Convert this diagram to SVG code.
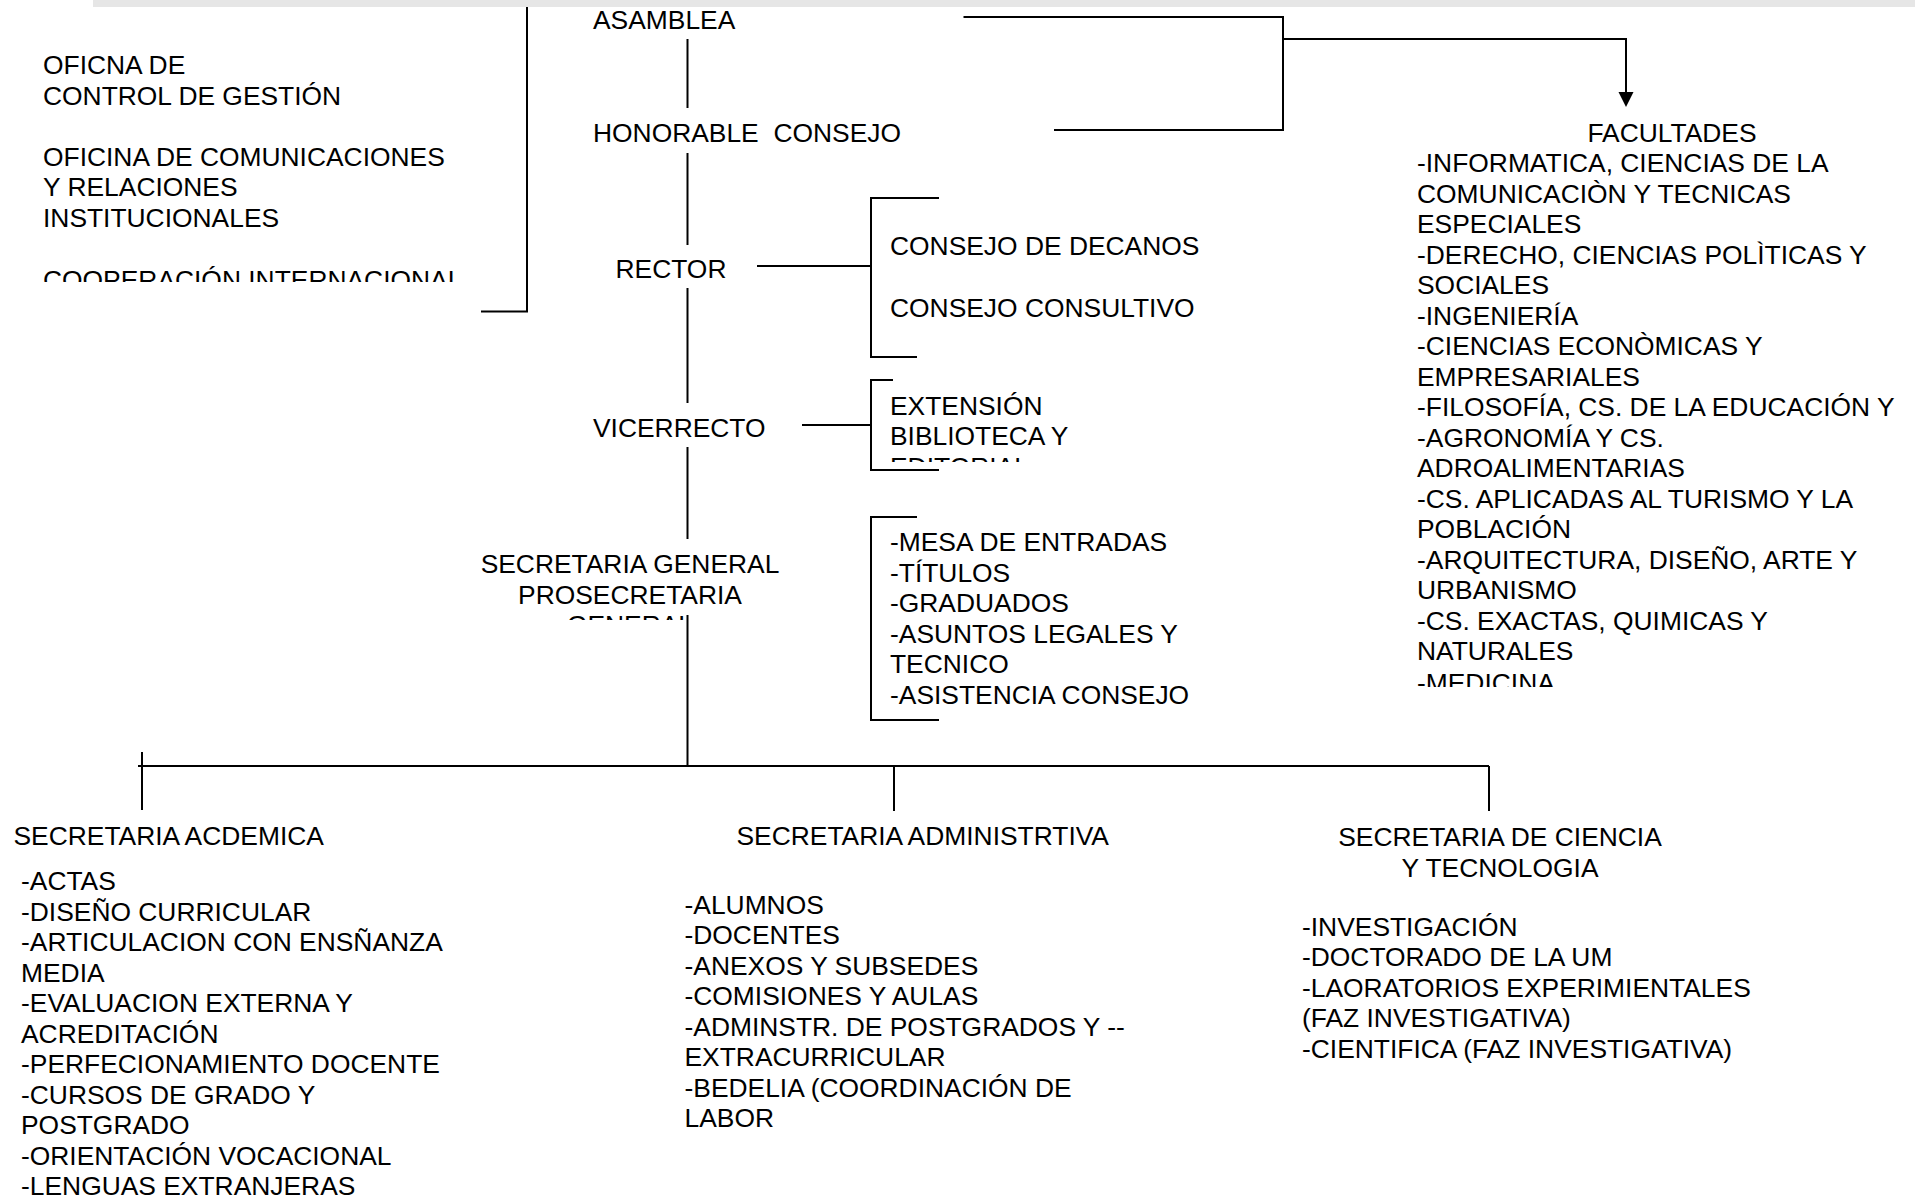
<svg xmlns="http://www.w3.org/2000/svg" width="1915" height="1202" viewBox="0 0 1915 1202">
<style>
text{font-family:"Liberation Sans",Arial,sans-serif;font-size:26.4px;fill:#000}
.c{text-anchor:middle}
.ln{fill:none;stroke:#000;stroke-width:2}
</style>
<defs>
<clipPath id="cpCoop"><rect x="0" y="240" width="480" height="42"/></clipPath>
<clipPath id="cpExt"><rect x="880" y="380" width="200" height="82"/></clipPath>
<clipPath id="cpSec"><rect x="460" y="540" width="340" height="80"/></clipPath>
<clipPath id="cpFac"><rect x="1400" y="660" width="500" height="27"/></clipPath>
</defs>
<rect x="93" y="0" width="1822" height="7" fill="#e6e6e6"/>
<g id="connectors">
<polyline class="ln" points="527,7 527,311.5 481,311.5"/>
<line class="ln" x1="687.5" y1="39" x2="687.5" y2="108"/>
<line class="ln" x1="687.5" y1="153" x2="687.5" y2="245"/>
<line class="ln" x1="687.5" y1="288" x2="687.5" y2="403"/>
<line class="ln" x1="687.5" y1="447" x2="687.5" y2="539"/>
<line class="ln" x1="687.5" y1="615" x2="687.5" y2="766"/>
<polyline class="ln" points="963.5,17 1283,17 1283,130 1054,130"/>
<polyline class="ln" points="1283,39 1626,39 1626,93"/>
<polygon points="1618.5,92 1633.5,92 1626,107" fill="#000"/>
<line class="ln" x1="757" y1="266" x2="871" y2="266"/>
<polyline class="ln" points="939,198 871,198 871,357 917,357"/>
<line class="ln" x1="802" y1="425" x2="871" y2="425"/>
<polyline class="ln" points="893,380 871,380 871,470 939,470"/>
<polyline class="ln" points="917,517 871,517 871,720 939,720"/>
<line class="ln" x1="138" y1="766" x2="1489" y2="766"/>
<line class="ln" x1="142" y1="752" x2="142" y2="810"/>
<line class="ln" x1="894" y1="766" x2="894" y2="811"/>
<line class="ln" x1="1489" y1="766" x2="1489" y2="811"/>
</g>
<g id="n-oficinas">
<text x="43" y="74">OFICNA DE</text>
<text x="43" y="104.5">CONTROL DE GESTIÓN</text>
<text x="43" y="165.5">OFICINA DE COMUNICACIONES</text>
<text x="43" y="196">Y RELACIONES</text>
<text x="43" y="226.5">INSTITUCIONALES</text>
<text x="43" y="289" clip-path="url(#cpCoop)">COOPERACIÓN INTERNACIONAL</text>
</g>
<g id="n-asamblea"><text x="593" y="29">ASAMBLEA</text></g>
<g id="n-honorable"><text x="593" y="142" xml:space="preserve">HONORABLE  CONSEJO</text></g>
<g id="n-rector"><text x="615.5" y="278">RECTOR</text></g>
<g id="n-vicerrecto"><text x="593" y="437">VICERRECTO</text></g>
<g id="n-secgeneral">
<text class="c" x="630" y="573" clip-path="url(#cpSec)">SECRETARIA GENERAL</text>
<text class="c" x="630" y="603.5" clip-path="url(#cpSec)">PROSECRETARIA</text>
<text class="c" x="630" y="634" clip-path="url(#cpSec)">GENERAL</text>
</g>
<g id="n-consejos">
<text x="890" y="255">CONSEJO DE DECANOS</text>
<text x="890" y="317">CONSEJO CONSULTIVO</text>
</g>
<g id="n-extension">
<text x="890" y="414.5" clip-path="url(#cpExt)">EXTENSIÓN</text>
<text x="890" y="445" clip-path="url(#cpExt)">BIBLIOTECA Y</text>
<text x="890" y="475.5" clip-path="url(#cpExt)">EDITORIAL</text>
</g>
<g id="n-mesa">
<text x="890" y="551">-MESA DE ENTRADAS</text>
<text x="890" y="581.5">-TÍTULOS</text>
<text x="890" y="612">-GRADUADOS</text>
<text x="890" y="642.5">-ASUNTOS LEGALES Y</text>
<text x="890" y="673">TECNICO</text>
<text x="890" y="703.5">-ASISTENCIA CONSEJO</text>
</g>
<g id="n-facultades">
<text class="c" x="1672" y="142">FACULTADES</text>
<text x="1417" y="172">-INFORMATICA, CIENCIAS DE LA</text>
<text x="1417" y="202.5">COMUNICACIÒN Y TECNICAS</text>
<text x="1417" y="233">ESPECIALES</text>
<text x="1417" y="263.5">-DERECHO, CIENCIAS POLÌTICAS Y</text>
<text x="1417" y="294">SOCIALES</text>
<text x="1417" y="324.5">-INGENIERÍA</text>
<text x="1417" y="355">-CIENCIAS ECONÒMICAS Y</text>
<text x="1417" y="385.5">EMPRESARIALES</text>
<text x="1417" y="416">-FILOSOFÍA, CS. DE LA EDUCACIÓN Y</text>
<text x="1417" y="446.5">-AGRONOMÍA Y CS.</text>
<text x="1417" y="477">ADROALIMENTARIAS</text>
<text x="1417" y="507.5">-CS. APLICADAS AL TURISMO Y LA</text>
<text x="1417" y="538">POBLACIÓN</text>
<text x="1417" y="568.5">-ARQUITECTURA, DISEÑO, ARTE Y</text>
<text x="1417" y="599">URBANISMO</text>
<text x="1417" y="629.5">-CS. EXACTAS, QUIMICAS Y</text>
<text x="1417" y="660">NATURALES</text>
<text x="1417" y="692" clip-path="url(#cpFac)">-MEDICINA</text>
</g>
<g id="n-academica">
<text x="13.5" y="845">SECRETARIA ACDEMICA</text>
<text x="21" y="890">-ACTAS</text>
<text x="21" y="920.5">-DISEÑO CURRICULAR</text>
<text x="21" y="951">-ARTICULACION CON ENSÑANZA</text>
<text x="21" y="981.5">MEDIA</text>
<text x="21" y="1012">-EVALUACION EXTERNA Y</text>
<text x="21" y="1042.5">ACREDITACIÓN</text>
<text x="21" y="1073">-PERFECIONAMIENTO DOCENTE</text>
<text x="21" y="1103.5">-CURSOS DE GRADO Y</text>
<text x="21" y="1134">POSTGRADO</text>
<text x="21" y="1164.5">-ORIENTACIÓN VOCACIONAL</text>
<text x="21" y="1195">-LENGUAS EXTRANJERAS</text>
</g>
<g id="n-administrativa">
<text x="736.5" y="845">SECRETARIA ADMINISTRTIVA</text>
<text x="684.5" y="913.5">-ALUMNOS</text>
<text x="684.5" y="944">-DOCENTES</text>
<text x="684.5" y="974.5">-ANEXOS Y SUBSEDES</text>
<text x="684.5" y="1005">-COMISIONES Y AULAS</text>
<text x="684.5" y="1035.5">-ADMINSTR. DE POSTGRADOS Y --</text>
<text x="684.5" y="1066">EXTRACURRICULAR</text>
<text x="684.5" y="1096.5">-BEDELIA (COORDINACIÓN DE</text>
<text x="684.5" y="1127">LABOR</text>
</g>
<g id="n-ciencia">
<text class="c" x="1500" y="846">SECRETARIA DE CIENCIA</text>
<text class="c" x="1500" y="876.5">Y TECNOLOGIA</text>
<text x="1302" y="935.5">-INVESTIGACIÓN</text>
<text x="1302" y="966">-DOCTORADO DE LA UM</text>
<text x="1302" y="996.5">-LAORATORIOS EXPERIMIENTALES</text>
<text x="1302" y="1027">(FAZ INVESTIGATIVA)</text>
<text x="1302" y="1057.5">-CIENTIFICA (FAZ INVESTIGATIVA)</text>
</g>
</svg>
